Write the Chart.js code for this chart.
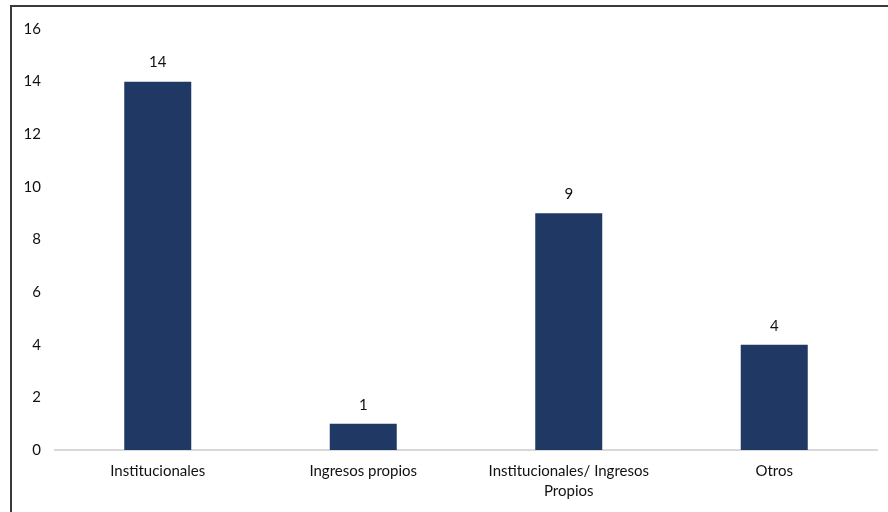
<!DOCTYPE html>
<html>
<head>
<meta charset="utf-8">
<script src="https://cdn.jsdelivr.net/npm/chart.js@4"></script>
<style>
  html, body { margin: 0; padding: 0; background: #ffffff; }
  #wrap { position: relative; width: 888px; height: 512px; overflow: hidden; }
  #frame {
    position: absolute; left: 10px; top: 5px; right: -4px; bottom: -4px;
    border-left: 2px solid #3a3a3a; border-top: 2px solid #3a3a3a;
    pointer-events: none;
  }
  canvas { position: absolute; left: 0; top: 0; }
</style>
</head>
<body>
<div id="wrap">
  <canvas id="chart" width="888" height="512"></canvas>
  <div id="frame"></div>
</div>
<script>
// Categorías de financiamiento y número de casos
const categories = [
  'Institucionales',
  'Ingresos propios',
  ['Institucionales/ Ingresos', 'Propios'],
  'Otros'
];
const counts = [14, 1, 9, 4];
const yTicks = [0, 2, 4, 6, 8, 10, 12, 14, 16];

const FONT = 'Lato, "Open Sans", sans-serif';
const TEXT = '#111111';

// Escribe el valor encima de cada barra
const valueLabels = {
  id: 'valueLabels',
  afterDatasetsDraw(chart) {
    const ctx = chart.ctx;
    const meta = chart.getDatasetMeta(0);
    ctx.save();
    ctx.font = '15px ' + FONT;
    ctx.fillStyle = TEXT;
    ctx.textAlign = 'center';
    ctx.textBaseline = 'middle';
    meta.data.forEach((bar, i) => {
      ctx.fillText(String(counts[i]), bar.x, bar.y - 19);
    });
    ctx.restore();
  }
};

new Chart(document.getElementById('chart'), {
  type: 'bar',
  data: {
    labels: categories,
    datasets: [{
      data: counts,
      backgroundColor: '#203864',
      borderWidth: 0,
      barPercentage: 0.326,
      categoryPercentage: 1
    }]
  },
  options: {
    responsive: false,
    animation: false,
    layout: { padding: { top: 29, right: 11, left: 0, bottom: 0 } },
    plugins: { legend: { display: false }, tooltip: { enabled: false } },
    scales: {
      x: {
        grid: { display: false, drawTicks: false },
        border: { display: true, color: '#d9d9d9', width: 2 },
        ticks: {
          padding: 11,
          color: TEXT,
          maxRotation: 0,
          autoSkip: false,
          font: { family: FONT, size: 15, lineHeight: 1.35 }
        },
        afterFit(scale) { scale.height = 62; }
      },
      y: {
        min: 0,
        max: 16,
        afterBuildTicks(scale) { scale.ticks = yTicks.map(v => ({ value: v })); },
        grid: { display: false, drawTicks: false },
        border: { display: false },
        ticks: {
          padding: 14,
          color: TEXT,
          font: { family: FONT, size: 15 }
        },
        afterFit(scale) { scale.width = 55; }
      }
    }
  },
  plugins: [valueLabels]
});
</script>
</body>
</html>
